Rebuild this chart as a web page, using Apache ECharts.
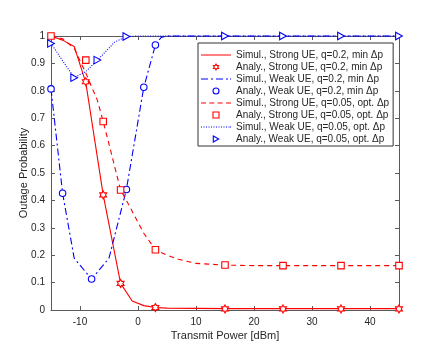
<!DOCTYPE html>
<html>
<head>
<meta charset="utf-8">
<script src="https://cdn.jsdelivr.net/npm/echarts@6/dist/echarts.min.js"></script>
<style>
html,body{margin:0;padding:0;background:#fff;}
#chart{width:424px;height:354px;}
</style>
</head>
<body>
<div id="chart"></div>
<script>
// ---- data ----
var seriesNames = [
  'Simul., Strong UE, q=0.2, min \u0394p',
  'Analy., Strong UE, q=0.2, min \u0394p',
  'Simul., Weak UE, q=0.2, min \u0394p',
  'Analy., Weak UE, q=0.2, min \u0394p',
  'Simul., Strong UE, q=0.05, opt. \u0394p',
  'Analy., Strong UE, q=0.05, opt. \u0394p',
  'Simul., Weak UE, q=0.05, opt. \u0394p',
  'Analy., Weak UE, q=0.05, opt. \u0394p'
];
var xTicks = [-10, 0, 10, 20, 30, 40];
var yTicks = [0, 0.1, 0.2, 0.3, 0.4, 0.5, 0.6, 0.7, 0.8, 0.9, 1];

var simStrong02X = [-15, -13, -11, -9, -6, -3, -1, 1, 3, 5, 10, 15, 20, 25, 30, 35, 40, 45];
var simStrong02Y = [1.0, 0.985, 0.962, 0.83, 0.42, 0.097, 0.033, 0.016, 0.009, 0.007, 0.006, 0.005, 0.005, 0.005, 0.005, 0.005, 0.005, 0.005];

var anaStrong02X = [-9, -6, -3, 3, 15, 25, 35, 45];
var anaStrong02Y = [0.833, 0.42, 0.097, 0.009, 0.004, 0.004, 0.004, 0.004];

var simWeak02X = [-15, -13, -11, -8, -5, -2, 1, 3, 4, 5, 10, 15, 20, 25, 30, 35, 40, 45];
var simWeak02Y = [0.807, 0.426, 0.189, 0.113, 0.189, 0.44, 0.813, 0.967, 0.995, 1, 1, 1, 1, 1, 1, 1, 1, 1];

var anaWeak02X = [-15, -13, -8, -2, 1, 3];
var anaWeak02Y = [0.807, 0.426, 0.113, 0.44, 0.813, 0.967];

var simStrong005X = [-15, -13, -11, -10, -9, -7, -6, -5, -3, -2, -1, 0, 1, 3, 5, 7, 10, 15, 20, 25, 30, 35, 40, 45];
var simStrong005Y = [1.0, 0.99, 0.955, 0.91, 0.865, 0.765, 0.688, 0.605, 0.438, 0.40, 0.36, 0.32, 0.28, 0.22, 0.2, 0.185, 0.17, 0.164, 0.162, 0.162, 0.162, 0.162, 0.162, 0.162];

var anaStrong005X = [-15, -9, -6, -3, 3, 15, 25, 35, 45];
var anaStrong005Y = [1.0, 0.912, 0.688, 0.438, 0.22, 0.164, 0.162, 0.162, 0.162];

var simWeak005X = [-15, -13, -11, -9, -7, -4, -2, 0, 5, 10, 15, 20, 25, 30, 35, 40, 45];
var simWeak005Y = [0.973, 0.91, 0.848, 0.87, 0.912, 0.978, 0.998, 1, 1, 1, 1, 1, 1, 1, 1, 1, 1];

var anaWeak005X = [-15, -11, -7, -2, 15, 25, 35, 45];
var anaWeak005Y = [0.973, 0.848, 0.912, 0.998, 1, 1, 1, 1];

// ---- helpers ----
function pairs(xs, ys) { return xs.map(function (x, i) { return [x, ys[i]]; }); }

var RED = '#ff0000', BLUE = '#0000ff';
var TXT = '#262626', AX = '#5a5a5a';
var FONT = '"Liberation Sans", Arial, Helvetica, sans-serif';
var HEXAGRAM = 'path://M10,0L12.89,5L18.66,5L15.77,10L18.66,15L12.89,15L10,20L7.11,15L1.34,15L4.23,10L1.34,5L7.11,5Z';
var TRI_RIGHT = 'path://M0,0L9,5L0,10Z';
var SQUARE = 'path://M0,0h10v10h-10z';

// legend line-sample icons (30 x 1 strips)
function strip(segs) {
  return 'path://' + segs.map(function (s) { return 'M' + s[0] + ',0h' + s[1] + 'v1h-' + s[1] + 'z'; }).join(' ');
}
var ICON_SOLID = strip([[0, 30]]);
var ICON_DASHDOT = strip([[0, 7], [10, 2], [15, 7], [25, 2], [29, 1]]);
var ICON_DASHED = strip([[0, 5], [8.3, 5], [16.6, 5], [25, 5]]);
var ICON_DOTTED = strip([[0, 1], [2.5, 1], [5, 1], [7.5, 1], [10, 1], [12.5, 1], [15, 1], [17.5, 1], [20, 1], [22.5, 1], [25, 1], [27.5, 1], [29, 1]]);
var legendIcons = [ICON_SOLID, HEXAGRAM, ICON_DASHDOT, 'circle', ICON_DASHED, SQUARE, ICON_DOTTED, TRI_RIGHT];

function lineSeries(name, xs, ys, color, type) {
  return {
    name: name, type: 'line', data: pairs(xs, ys),
    symbol: 'none', showSymbol: false, clip: false, animation: false,
    lineStyle: { color: color, width: 1.1, type: type },
    itemStyle: { color: color }
  };
}
function markSeries(name, xs, ys, color, symbol, size) {
  return {
    name: name, type: 'scatter', data: pairs(xs, ys),
    symbol: symbol, symbolSize: size, symbolKeepAspect: true, clip: false, animation: false,
    itemStyle: { color: '#ffffff', borderColor: color, borderWidth: 1.1, opacity: 1 },
    z: 3
  };
}

var legendData = seriesNames.map(function (n, i) {
  var isLine = (i % 2 === 0);
  var col = (i === 0 || i === 1 || i === 4 || i === 5) ? RED : BLUE;
  return isLine
    ? { name: n, icon: legendIcons[i], itemStyle: { color: col, borderWidth: 0 } }
    : { name: n, icon: legendIcons[i], itemStyle: { color: '#ffffff', borderColor: col, borderWidth: 1.1 } };
});

var chart = echarts.init(document.getElementById('chart'), null, { renderer: 'canvas' });
chart.setOption({
  backgroundColor: '#ffffff',
  animation: false,
  textStyle: { fontFamily: FONT },
  grid: { left: 51, right: 25, top: 36, bottom: 44, containLabel: false },
  legend: {
    orient: 'vertical', left: 198, top: 43,
    padding: [6, 4, 1, 3],
    itemWidth: 30, itemHeight: 6, itemGap: 0,
    selectedMode: false,
    backgroundColor: '#ffffff', borderColor: '#333333', borderWidth: 1,
    textStyle: { fontFamily: FONT, fontSize: 10, color: TXT, lineHeight: 12 },
    data: legendData
  },
  xAxis: [{
    type: 'value', min: -15, max: 45, position: 'bottom',
    name: 'Transmit Power [dBm]', nameLocation: 'middle', nameGap: 20, nameMoveOverlap: false,
    nameTextStyle: { fontFamily: FONT, fontSize: 11, color: TXT },
    axisLine: { show: true, onZero: false, lineStyle: { color: AX, width: 1 } },
    axisTick: { show: true, inside: true, length: 4, lineStyle: { color: AX }, customValues: xTicks },
    axisLabel: { show: true, margin: 7, fontFamily: FONT, fontSize: 10, color: TXT, customValues: xTicks },
    splitLine: { show: false }
  }, {
    type: 'value', min: -15, max: 45, position: 'top',
    axisLine: { show: true, onZero: false, lineStyle: { color: AX, width: 1 } },
    axisTick: { show: true, inside: true, length: 4, lineStyle: { color: AX }, customValues: xTicks },
    axisLabel: { show: false },
    splitLine: { show: false }
  }],
  yAxis: [{
    type: 'value', min: 0, max: 1, interval: 0.1, position: 'left',
    name: 'Outage Probability', nameLocation: 'middle', nameGap: 22, nameMoveOverlap: false,
    nameTextStyle: { fontFamily: FONT, fontSize: 11, color: TXT },
    axisLine: { show: true, onZero: false, lineStyle: { color: AX, width: 1 } },
    axisTick: { show: true, inside: true, length: 4, lineStyle: { color: AX } },
    axisLabel: { margin: 6, fontFamily: FONT, fontSize: 10, color: TXT,
      formatter: function (v) { return String(+v.toFixed(1)); } },
    splitLine: { show: false }
  }, {
    type: 'value', min: 0, max: 1, interval: 0.1, position: 'right',
    axisLine: { show: true, onZero: false, lineStyle: { color: AX, width: 1 } },
    axisTick: { show: true, inside: true, length: 4, lineStyle: { color: AX } },
    axisLabel: { show: false },
    splitLine: { show: false }
  }],
  series: [
    lineSeries(seriesNames[0], simStrong02X, simStrong02Y, RED, 'solid'),
    markSeries(seriesNames[1], anaStrong02X, anaStrong02Y, RED, HEXAGRAM, 8),
    lineSeries(seriesNames[2], simWeak02X, simWeak02Y, BLUE, [7, 3, 2, 3]),
    markSeries(seriesNames[3], anaWeak02X, anaWeak02Y, BLUE, 'circle', 6.5),
    lineSeries(seriesNames[4], simStrong005X, simStrong005Y, RED, [5, 4]),
    markSeries(seriesNames[5], anaStrong005X, anaStrong005Y, RED, SQUARE, 6.5),
    lineSeries(seriesNames[6], simWeak005X, simWeak005Y, BLUE, [1, 1.5]),
    markSeries(seriesNames[7], anaWeak005X, anaWeak005Y, BLUE, TRI_RIGHT, 7.5)
  ]
});
</script>
</body>
</html>
